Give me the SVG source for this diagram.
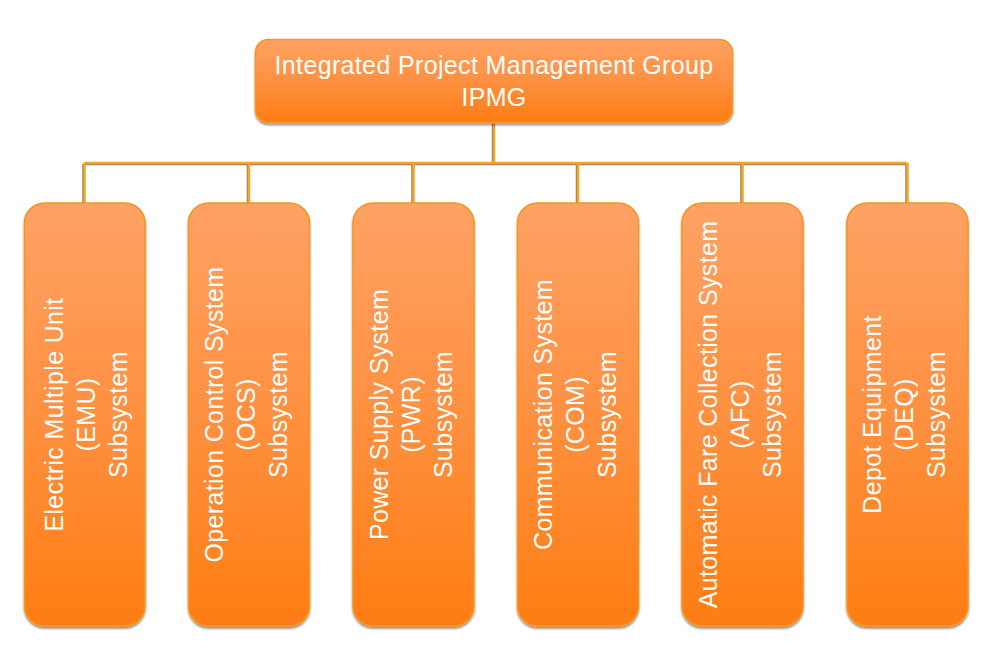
<svg xmlns="http://www.w3.org/2000/svg" width="991" height="653" viewBox="0 0 991 653">
<defs>
<linearGradient id="g" x1="0" y1="0" x2="0" y2="1">
<stop offset="0" stop-color="#FEA264"/>
<stop offset="0.5" stop-color="#FE9040"/>
<stop offset="1" stop-color="#FE7D12"/>
</linearGradient>
<filter id="sh" x="-10%" y="-10%" width="120%" height="120%">
<feGaussianBlur in="SourceAlpha" stdDeviation="1.2"/>
<feOffset dx="0" dy="2" result="b"/>
<feComponentTransfer><feFuncA type="linear" slope="0.45"/></feComponentTransfer>
<feMerge><feMergeNode/><feMergeNode in="SourceGraphic"/></feMerge>
</filter>
</defs>
<style>
.box{fill:url(#g);stroke:#F7951C;stroke-width:1.5;filter:url(#sh)}
.t{font-family:"Liberation Sans",Arial,sans-serif;font-size:25px;letter-spacing:0.35px;fill:#FFFFFF;text-anchor:middle}
.ln{fill:none;stroke:#F9A41E;stroke-width:2.5}
.lns{fill:none;stroke:#6A5636;stroke-width:2.5;opacity:0.75}
</style>
<rect width="991" height="653" fill="#FFFFFF"/>
<g id="connectors">
<path class="lns" transform="translate(-1,1)" d="M494,123 V163 M84.5,163 H907.5 M84.5,163 V203 M249,163 V203 M413.5,163 V203 M578,163 V203 M742.5,163 V203 M907.5,163 V203"/>
<path class="ln" d="M494,123 V163 M84.5,163 H907.5 M84.5,163 V203 M249,163 V203 M413.5,163 V203 M578,163 V203 M742.5,163 V203 M907.5,163 V203"/>
</g>
<g id="ipmg">
<rect class="box" x="255.5" y="39.5" width="477" height="83" rx="13"/>
<text class="t" x="494" y="74">Integrated Project Management Group</text>
<text class="t" x="494" y="106">IPMG</text>
</g>
<g id="emu">
<rect class="box" x="24.5" y="203" width="120.5" height="423" rx="20"/>
<text class="t" transform="translate(84.5,414.5) rotate(-90)"><tspan x="0" y="-21.5">Electric Multiple Unit</tspan><tspan x="0" y="10">(EMU)</tspan><tspan x="0" y="42">Subsystem</tspan></text>
</g>
<g id="ocs">
<rect class="box" x="188.5" y="203" width="121" height="423" rx="20"/>
<text class="t" transform="translate(249,414.5) rotate(-90)"><tspan x="0" y="-26">Operation Control System</tspan><tspan x="0" y="6">(OCS)</tspan><tspan x="0" y="38">Subsystem</tspan></text>
</g>
<g id="pwr">
<rect class="box" x="353" y="203" width="121" height="423" rx="20"/>
<text class="t" transform="translate(413.5,414.5) rotate(-90)"><tspan x="0" y="-26">Power Supply System</tspan><tspan x="0" y="6">(PWR)</tspan><tspan x="0" y="38">Subsystem</tspan></text>
</g>
<g id="com">
<rect class="box" x="517.5" y="203" width="121" height="423" rx="20"/>
<text class="t" transform="translate(578,414.5) rotate(-90)"><tspan x="0" y="-26">Communication System</tspan><tspan x="0" y="6">(COM)</tspan><tspan x="0" y="38">Subsystem</tspan></text>
</g>
<g id="afc">
<rect class="box" x="682" y="203" width="121" height="423" rx="20"/>
<text class="t" transform="translate(742.5,414.5) rotate(-90)"><tspan x="0" y="-26">Automatic Fare Collection System</tspan><tspan x="0" y="6">(AFC)</tspan><tspan x="0" y="38">Subsystem</tspan></text>
</g>
<g id="deq">
<rect class="box" x="847" y="203" width="121" height="423" rx="20"/>
<text class="t" transform="translate(907.5,414.5) rotate(-90)"><tspan x="0" y="-27">Depot Equipment</tspan><tspan x="0" y="5">(DEQ)</tspan><tspan x="0" y="37">Subsystem</tspan></text>
</g>
</svg>
